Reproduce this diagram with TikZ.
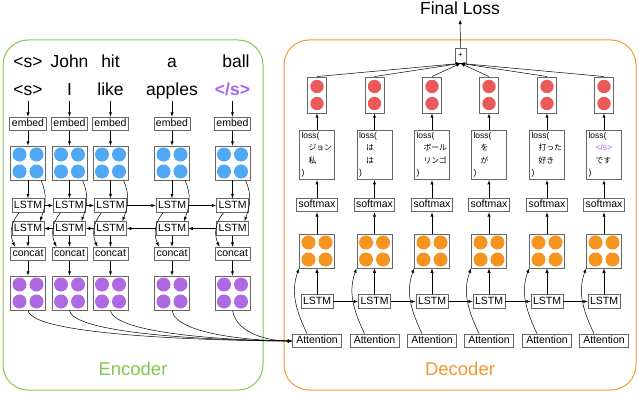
\documentclass[tikz,border=0pt]{standalone}
\usepackage{fontspec}
\setmainfont{Liberation Sans}
\newfontfamily\jp{Noto Sans CJK JP}
\newcommand{\ja}[1]{{\jp\fontsize{7.8}{12.5}\selectfont #1}}
\definecolor{encgreen}{RGB}{130,200,80}
\definecolor{decorange}{RGB}{243,152,50}
\definecolor{cblue}{RGB}{80,168,245}
\definecolor{corange}{RGB}{245,148,30}
\definecolor{cpurple}{RGB}{175,105,225}
\definecolor{cred}{RGB}{235,90,90}
\definecolor{eosc}{RGB}{170,100,240}
\begin{document}
\begin{tikzpicture}[>=latex, x=1pt, y=1pt, line width=0.5pt,
    op/.style={draw=black!60, line width=0.9pt, font=\fontsize{10.5}{12}\selectfont,
        inner xsep=2pt, inner ysep=2pt, text height=7.5pt, text depth=2.2pt},
    word/.style={font=\fontsize{17.5}{20}\selectfont, inner sep=1pt, text height=13pt, text depth=4pt},
    quad/.style={draw=black!60, line width=0.9pt, minimum width=35pt, minimum height=34pt, inner sep=0pt,
        path picture={\foreach \dx in {-8.5,8.5} \foreach \dy in {-8.5,8.5}
            \fill[#1] ([shift={(\dx pt,\dy pt)}]path picture bounding box.center) circle (7pt);}},
    duo/.style={draw=black!60, line width=0.9pt, minimum width=19pt, minimum height=36pt, inner sep=0pt,
        path picture={\foreach \dy in {-8.5,8.5}
            \fill[cred] ([yshift=\dy pt]path picture bounding box.center) circle (6.7pt);}},
    lossbox/.style={draw=black!60, line width=0.9pt, text width=31pt, inner sep=2pt,
        minimum height=49pt, align=left, font=\fontsize{8.5}{12.5}\selectfont},
    frame/.style={rounded corners=25pt, line width=1pt}]
    \useasboundingbox (0,0) rectangle (639,-393);

    % 1. Khung Encoder / Decoder
    \draw[frame, draw=encgreen] (3,-40) rectangle (263,-390);
    \draw[frame, draw=decorange] (284,-40) rectangle (636,-390);
    \node[font=\fontsize{18.5}{20}\selectfont, text=encgreen] (enc) at (133,-369) {Encoder};
    \node[font=\fontsize{18.5}{20}\selectfont, text=decorange] (dec) at (460,-369) {Decoder};

    % 2. Cau nguon
    \node[word] (w1) at (28,-63) {<s>};
    \node[word] (w2) at (69.5,-63) {John};
    \node[word] (w3) at (110.5,-63) {hit};
    \node[word] (w4) at (172,-63) {a};
    \node[word] (w5) at (236,-63) {ball};
    \node[word] (v1) at (28,-91) {<s>};
    \node[word] (v2) at (69.5,-91) {I};
    \node[word] (v3) at (110.5,-91) {like};
    \node[word] (v4) at (172,-91) {apples};
    \node[word, text=eosc] (v5) at (232.5,-91) {\bfseries </s>};

    % 3. Cac cot Encoder
    \foreach \i/\x in {1/28,2/69.5,3/110.5,4/172,5/232.5}{
        \node[op] (e\i) at (\x,-124) {embed};
        \node[quad=cblue] (h\i) at (\x,-163) {};
        \node[op] (f\i) at (\x,-205.5) {LSTM};
        \node[op] (r\i) at (\x,-228.5) {LSTM};
        \node[op] (c\i) at (\x,-254) {concat};
        \node[quad=cpurple] (p\i) at (\x,-293) {};
        \draw[->] (v\i.south) -- (e\i.north);
        \draw[->] (e\i) -- (h\i);
        \draw[->] (h\i) -- (f\i);
        \draw[->] ([xshift=13pt]h\i.south) to[out=-65,in=70] ([xshift=12pt]r\i.north);
        \draw[->] ([xshift=-9pt]f\i.south) to[out=-130,in=115] ([xshift=-13pt]c\i.north);
        \draw[->] (r\i) -- (c\i);
        \draw[->] (c\i) -- (p\i);
    }
    \foreach \i/\j in {1/2,2/3,3/4,4/5}{
        \draw[->] (f\i) -- (f\j);
        \draw[->] (r\j) -- (r\i);
    }

    % 4. Cac cot Decoder
    \foreach \j/\x in {1/317,2/374.5,3/432,4/489,5/547,6/604}{
        \node[duo] (o\j) at (\x,-95) {};
        \node[op] (s\j) at (\x,-205) {softmax};
        \node[quad=corange] (d\j) at (\x,-251) {};
        \node[op] (t\j) at (\x,-301.5) {LSTM};
        \node[op, minimum width=49pt] (a\j) at (\x,-341) {Attention};
    }
    \node[lossbox] (l1) at (317,-155) {loss(\\\hspace*{7pt}\ja{ジョン}\\\hspace*{7pt}\ja{私}\\)};
    \node[lossbox] (l2) at (374.5,-155) {loss(\\\hspace*{7pt}\ja{は}\\\hspace*{7pt}\ja{は}\\)};
    \node[lossbox] (l3) at (432,-155) {loss(\\\hspace*{7pt}\ja{ボール}\\\hspace*{7pt}\ja{リンゴ}\\)};
    \node[lossbox] (l4) at (489,-155) {loss(\\\hspace*{7pt}\ja{を}\\\hspace*{7pt}\ja{が}\\)};
    \node[lossbox] (l5) at (547,-155) {loss(\\\hspace*{7pt}\ja{打った}\\\hspace*{7pt}\ja{好き}\\)};
    \node[lossbox] (l6) at (604,-155) {loss(\\\hspace*{7pt}{\color{eosc}</s>}\\\hspace*{7pt}\ja{です}\\)};

    \node[draw=black!60, line width=0.8pt, font=\fontsize{8}{9}\selectfont,
        minimum width=11pt, minimum height=15pt, inner sep=0pt] (plus) at (460.5,-55.5) {+};
    \node[word] (fl) at (460,-10) {Final Loss};
    \draw[->] (plus) -- (fl);

    \foreach \j in {1,...,6}{
        \draw[->] (o\j.north) -- (plus.south);
        \draw[->] (l\j) -- (o\j);
        \draw[->] (s\j) -- (l\j);
        \draw[->] (d\j) -- (s\j);
        \draw[->] (t\j) -- (d\j);
        \draw[->] ([xshift=-10pt]a\j.north) to[out=115,in=250] (d\j.south west);
    }
    \foreach \j/\k in {1/2,2/3,3/4,4/5,5/6}
        \draw[->] (t\j) -- (t\k);

    % 5. Attention nhan dau ra Encoder
    \foreach \i/\ls in {1/0.28,2/0.32,3/0.38,4/0.55,5/0.9}
        \draw[->] (p\i.south) to[out=-80,in=180,looseness=\ls] (a1.west);
\end{tikzpicture}
\end{document}
